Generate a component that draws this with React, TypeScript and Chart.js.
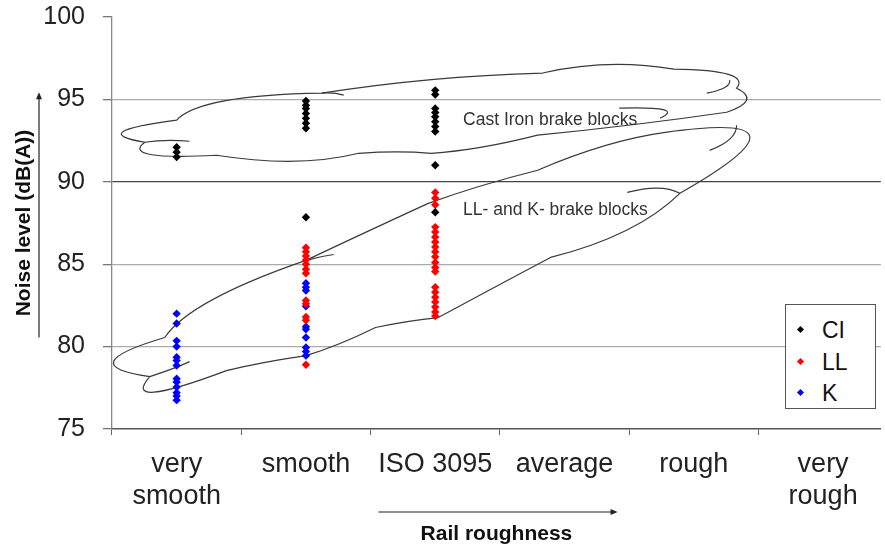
import React, { useEffect, useRef } from 'react';
import { Chart, registerables } from 'chart.js';

Chart.register(...registerables);

const FONT = '"Liberation Sans", Arial, Helvetica, sans-serif';

// ---- data ----
const categories: (string | string[])[] = [['very', 'smooth'], 'smooth', 'ISO 3095', 'average', 'rough', ['very', 'rough']];
const yTicks = [75, 80, 85, 90, 95, 100];
const seriesNames = ['CI', 'LL', 'K'];
const seriesColors = ['#000000', '#ff0000', '#0000ff'];

const ciVerySmooth = [92.1, 91.8, 91.5];
const ciSmooth = [94.9, 94.65, 94.45, 94.15, 93.85, 93.55, 93.25, 87.85];
const ciIso = [95.55, 95.3, 94.45, 94.2, 93.95, 93.65, 93.35, 93.05, 91.0, 88.15];

const llSmooth = [86.0, 85.75, 85.5, 85.25, 85.0, 84.7, 84.45, 82.8, 82.6, 81.8, 81.6, 78.9];
const llIso = [89.35, 89.0, 88.6, 87.25, 86.95, 86.65, 86.35, 86.05, 85.75, 85.45, 85.1, 84.8, 84.55, 83.6, 83.3, 83.0, 82.7, 82.4, 82.1, 81.85];

const kVerySmooth = [82.0, 81.4, 80.35, 80.0, 79.35, 79.15, 78.85, 78.05, 77.85, 77.55, 77.2, 77.0, 76.75];
const kSmooth = [83.85, 83.6, 83.4, 82.45, 81.2, 81.05, 80.55, 79.95, 79.7, 79.45];

// annotation labels (x in category units, y in dB)
const cloudLabels: [string, number, number][] = [
  ['Cast Iron brake blocks', 2.715, 93.75],
  ['LL- and K- brake blocks', 2.715, 88.3],
];

// cloud outlines in data units: first = start point, then [ctrlX, ctrlY, x, y]
const cloudCastIron: number[][] = [
  [0.254, 92.40],
  [-0.208, 93.01, 0.5, 93.74],
  [0.677, 95.26, 1.623, 95.38],
  [2.446, 96.41, 3.331, 96.60],
  [3.831, 97.51, 4.346, 96.84],
  [4.946, 96.78, 4.831, 95.68],
  [5.023, 94.95, 4.754, 94.22],
  [4.062, 93.43, 3.292, 92.83],
  [2.831, 91.91, 2.469, 91.73],
  [2.215, 91.91, 1.908, 91.73],
  [1.446, 90.82, 0.808, 91.61],
  [0.062, 91.31, 0.254, 92.40],
];
const cloudLLK: number[][] = [
  [0.292, 78.18],
  [-0.323, 78.85, 0.408, 80.55],
  [0.6, 82.80, 1.5, 85.23],
  [1.908, 86.75, 2.446, 88.69],
  [2.831, 89.79, 3.292, 90.70],
  [3.831, 92.52, 4.292, 93.01],
  [5.523, 94.35, 4.392, 89.30],
  [4.062, 86.75, 3.392, 85.41],
  [2.908, 83.40, 2.523, 81.76],
  [2.292, 81.58, 2.038, 81.16],
  [1.754, 80.06, 1.5, 79.45],
  [1.138, 79.03, 0.885, 78.54],
  [0.062, 76.11, 0.292, 78.18],
];
const cloudTails: number[][][] = [
  [[0.254, 92.40], [0.408, 92.58, 0.6, 92.46]],
  [[1.623, 95.38], [1.715, 95.44, 1.792, 95.26]],
  [[3.923, 94.47], [4.446, 94.59, 4.238, 93.86]],
  [[4.777, 96.17], [4.792, 95.68, 4.6, 95.38]],
  [[4.392, 89.30], [4.254, 89.91, 3.985, 89.36]],
  [[1.5, 85.23], [1.6, 85.47, 1.715, 85.59]],
  [[0.292, 78.18], [0.485, 78.67, 0.6, 79.09]],
  [[4.831, 93.43], [4.831, 92.52, 4.623, 91.91]],
];

const yArrowRange = [80.55, 95.44];
const xArrowRange = [2.06, 3.91];

const pts = (cat: number, vals: number[]) => vals.map((v) => ({ x: cat + 0.5, y: v }));

const decorPlugin = {
  id: 'decor',
  beforeDatasetsDraw(chart: any) {
    const { ctx, scales } = chart;
    const xs = scales.x;
    const ys = scales.y;
    const X = (v: number) => xs.getPixelForValue(v);
    const Y = (v: number) => ys.getPixelForValue(v);
    ctx.save();
    ctx.strokeStyle = '#3a3a3a';
    ctx.lineWidth = 1.2;
    const drawPath = (p: number[][], close: boolean) => {
      ctx.beginPath();
      ctx.moveTo(X(p[0][0]), Y(p[0][1]));
      for (let i = 1; i < p.length; i++) {
        const s = p[i];
        ctx.quadraticCurveTo(X(s[0]), Y(s[1]), X(s[2]), Y(s[3]));
      }
      if (close) ctx.closePath();
      ctx.stroke();
    };
    drawPath(cloudCastIron, true);
    drawPath(cloudLLK, true);
    cloudTails.forEach((t) => drawPath(t, false));
    ctx.fillStyle = '#333';
    ctx.font = `17.5px ${FONT}`;
    ctx.textBaseline = 'middle';
    ctx.textAlign = 'left';
    cloudLabels.forEach(([t, x, y]) => ctx.fillText(t, X(x), Y(y)));
    ctx.restore();
  },
  afterDraw(chart: any) {
    const { ctx, scales } = chart;
    const xs = scales.x;
    const ys = scales.y;
    ctx.save();
    ctx.strokeStyle = '#222';
    ctx.fillStyle = '#222';
    ctx.lineWidth = 1.2;
    // y arrow
    const ax = ys.left + 39;
    const y0 = ys.getPixelForValue(yArrowRange[0]);
    const y1 = ys.getPixelForValue(yArrowRange[1]);
    ctx.beginPath();
    ctx.moveTo(ax, y0);
    ctx.lineTo(ax, y1 + 5);
    ctx.stroke();
    ctx.beginPath();
    ctx.moveTo(ax, y1);
    ctx.lineTo(ax - 3, y1 + 7);
    ctx.lineTo(ax + 3, y1 + 7);
    ctx.closePath();
    ctx.fill();
    // x arrow
    const ay = xs.bottom - 38;
    const x0 = xs.getPixelForValue(xArrowRange[0]);
    const x1 = xs.getPixelForValue(xArrowRange[1]);
    ctx.beginPath();
    ctx.moveTo(x0, ay);
    ctx.lineTo(x1 - 5, ay);
    ctx.stroke();
    ctx.beginPath();
    ctx.moveTo(x1, ay);
    ctx.lineTo(x1 - 7, ay - 3);
    ctx.lineTo(x1 - 7, ay + 3);
    ctx.closePath();
    ctx.fill();
    ctx.restore();
  },
};

export default function App() {
  const ref = useRef<HTMLCanvasElement>(null);

  useEffect(() => {
    const seriesData = [
      [...pts(0, ciVerySmooth), ...pts(1, ciSmooth), ...pts(2, ciIso)],
      [...pts(1, llSmooth), ...pts(2, llIso)],
      [...pts(0, kVerySmooth), ...pts(1, kSmooth)],
    ];
    const chart = new Chart(ref.current as HTMLCanvasElement, {
      type: 'scatter',
      data: {
        datasets: seriesNames.map((name, i) => ({
          label: name,
          data: seriesData[i],
          backgroundColor: seriesColors[i],
          borderColor: seriesColors[i],
          borderWidth: 0,
          pointStyle: 'rectRot',
          pointRadius: 4.2,
        })),
      },
      options: {
        responsive: false,
        animation: false,
        devicePixelRatio: 1,
        layout: { padding: { top: 17, left: 0, right: 0, bottom: 0 } },
        plugins: { legend: { display: false }, tooltip: { enabled: false } },
        scales: {
          x: {
            type: 'linear',
            min: 0,
            max: 773 / 130,
            afterBuildTicks: (s: any) => {
              s.ticks = categories.map((_, i) => ({ value: i + 0.5 }));
            },
            afterFit: (s: any) => {
              s.height = 121;
            },
            ticks: {
              callback: (_v: any, i: number) => categories[i],
              font: { family: FONT, size: 27, lineHeight: 1.185 },
              color: '#222',
              padding: 14,
              maxRotation: 0,
              autoSkip: false,
            },
            grid: { display: true, offset: true, drawOnChartArea: false, drawTicks: true, tickLength: 6, color: '#666' },
            border: { color: '#555', width: 1.5 },
            title: {
              display: true,
              text: 'Rail roughness',
              font: { family: FONT, size: 21, weight: 'bold' },
              color: '#111',
              padding: { top: 0, bottom: 3 },
            },
          },
          y: {
            min: 75,
            max: 100,
            afterBuildTicks: (s: any) => {
              s.ticks = yTicks.map((v) => ({ value: v }));
            },
            afterFit: (s: any) => {
              s.width = 112;
              s.paddingTop = 0;
              s.paddingBottom = 0;
            },
            ticks: { font: { family: FONT, size: 25 }, color: '#222', padding: 18 },
            grid: {
              color: (c: any) => {
                const v = c.tick && c.tick.value;
                if (v === 90) return '#444';
                if (v === 75 || v === 100) return 'rgba(0,0,0,0)';
                return '#aaa';
              },
              tickColor: '#777',
              tickLength: 9,
              drawTicks: true,
              lineWidth: 1.3,
            },
            border: { color: '#888', width: 1.3 },
            title: {
              display: true,
              text: 'Noise level (dB(A))',
              font: { family: FONT, size: 21, weight: 'bold' },
              color: '#111',
              padding: { top: 12, bottom: 0 },
            },
          },
        },
      },
      plugins: [decorPlugin],
    } as any);
    return () => chart.destroy();
  }, []);

  const rowCenters = [25, 57, 88];
  return (
    <div style={{ position: 'absolute', left: 0, top: 0, width: 885, height: 550, background: '#fff' }}>
      <canvas ref={ref} width={885} height={550} style={{ display: 'block', width: 885, height: 550 }} />
      <div
        style={{
          position: 'absolute',
          left: 785,
          top: 304,
          width: 91,
          height: 105,
          border: '1.5px solid #555',
          background: '#fff',
          fontFamily: FONT,
          fontSize: 23,
          color: '#111',
          boxSizing: 'border-box',
        }}
      >
        {seriesNames.map((name, i) => (
          <div key={name} style={{ position: 'absolute', left: 0, top: rowCenters[i] - 14, height: 28, width: '100%' }}>
            <div
              style={{
                position: 'absolute',
                left: 12,
                top: 11,
                width: 5,
                height: 5,
                background: seriesColors[i],
                transform: 'rotate(45deg)',
              }}
            />
            <span style={{ position: 'absolute', left: 36, top: 0, lineHeight: '28px' }}>{name}</span>
          </div>
        ))}
      </div>
    </div>
  );
}
